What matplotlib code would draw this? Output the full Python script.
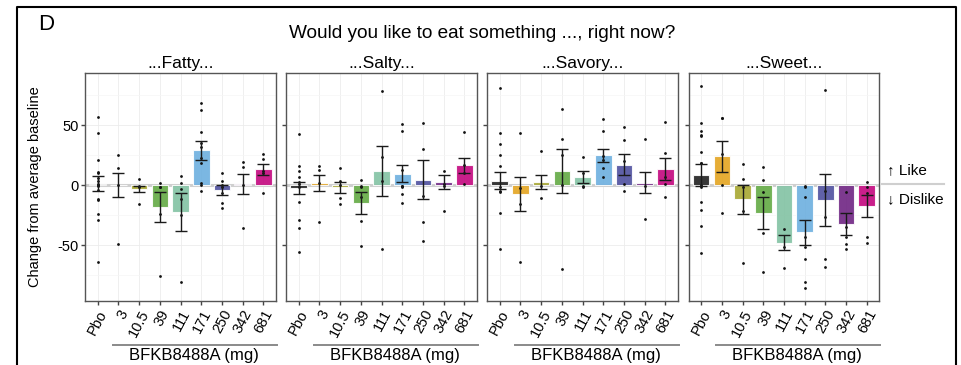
import matplotlib
matplotlib.use('Agg')
import matplotlib.pyplot as plt
from matplotlib.lines import Line2D
from matplotlib.transforms import blended_transform_factory

plt.rcParams['font.family'] = ['Liberation Sans', 'DejaVu Sans']

doses = ['Pbo', '3', '10.5', '39', '111', '171', '250', '342', '681']
tastes = ['...Fatty...', '...Salty...', '...Savory...', '...Sweet...']
dose_colors = ['#1a1a1a', '#e3a21a', '#a5a52b', '#5fa83f', '#7fc1a1',
               '#69addf', '#4a4b9c', '#6b1f80', '#c2007b']

# mean change, SEM and individual subjects per dose
fatty_mean = [1, 0, -3.5, -18, -22.5, 29, -4.5, 0.5, 13]
fatty_sem = [6.2, 10.3, 2.7, 12.5, 16, 8, 4.2, 8.3, 4.4]
fatty_points = [
    [57, 43.6, 20.8, 11, 10, 5.5, 3, 1, 0, -1, -4, -12, -12.5, -24.4, -29, -64],
    [24.7, 14.4, 0, -49],
    [5.3, -1, -1.5, -16],
    [1.4, -1.4, -2, -24.4, -76],
    [7.5, 1.4, -3.6, -12, -25, -81],
    [68, 62.5, 44.4, 34.7, 32, 22.8, 18, 1.4, 0, -4.7],
    [9.7, 3.6, 0, -1.4, -7, -14.7, -19.4],
    [19.4, 14.7, 0, -36],
    [26, 22, 12, 9.7, -7],
]

salty_mean = [-2.5, 1.5, -2, -15, 11.5, 9.5, 4.5, 2.5, 16.5]
salty_sem = [5, 6.6, 4.4, 8.8, 21, 7, 16, 5.5, 6.2]
salty_points = [
    [42.5, 15.8, 11.7, 7, 2.8, 0.5, -1.4, -14, -29, -36, -56],
    [15.8, 12.5, 1.4, -31],
    [14, 3.6, 0, -11, -16],
    [4, -1, -1.5, -9.7, -30, -50.5],
    [78.6, 23.6, 3.6, -53.6],
    [50.5, 45, 12.5, -0.5, -1, -1.5, -7.8, -15.3],
    [52, 30, -9, -31, -46.7],
    [11.7, 0.5, -0.5, -22],
    [44.4, 16.7, 10.3, 0.8],
]

savory_mean = [3.5, -7.5, 2.5, 11.5, 6.5, 25, 17, 2, 13.5]
savory_sem = [7, 14.5, 6, 18.5, 4.8, 5.4, 9, 9, 9.2]
savory_points = [
    [81, 43.6, 34, 24.7, 15.8, -1.4, -5, -5.5, -23.6, -53.6],
    [43.6, -2.8, -15.8, -64.4],
    [28.3, -1, -10.5],
    [63, 38, 24.7, 0, -70],
    [23.6, 10.3, -1, -1.5],
    [54.7, 44.7, 24.4, 20.8, 13.9, 7],
    [48, 37.5, 19.7, 0.8, -5],
    [38.3, -1, -28.6],
    [52.8, 27, 6.4, 0.8, -9.7],
]

sweet_mean = [8.5, 24, -12, -23.5, -48, -39.5, -12.5, -32.5, -17.5]
sweet_sem = [9, 13, 12, 13.5, 6, 10.7, 22, 9, 9]
sweet_points = [
    [82.5, 51.4, 45, 41.7, 41, 27.8, 18.6, 18, 0, -1.4, -14.4, -20.8, -34, -57],
    [56, 55.5, 25.5, 0, -23.6],
    [17.5, 5, -2, -21.7, -65],
    [14.7, 3.9, -5.8, -39.7, -72.5],
    [-37, -52, -69.4],
    [-1, -1.5, -9.7, -43, -52, -62, -81, -86],
    [79, -4.7, -26.4, -62, -68.6],
    [-5.8, -34.7, -43.6, -49.4, -53.6],
    [2.8, -1.4, -7, -43.6, -48],
]

all_means = [fatty_mean, salty_mean, savory_mean, sweet_mean]
all_sems = [fatty_sem, salty_sem, savory_sem, sweet_sem]
all_points = [fatty_points, salty_points, savory_points, sweet_points]

W, H = 961, 365
fig = plt.figure(figsize=(W / 100, H / 100), dpi=100)

panel_left = [85.3, 286.3, 487.3, 688.7]
panel_w = 190.5
top_px, bot_px = 73.3, 300.7
x = list(range(len(doses)))

for k, taste in enumerate(tastes):
    ax = fig.add_axes([panel_left[k] / W, 1 - bot_px / H,
                       panel_w / W, (bot_px - top_px) / H])
    ax.set_xlim(-0.6, 8.6)
    ax.set_ylim(-96.4, 93.1)

    ax.set_yticks([-50, 0, 50])
    ax.set_yticks([-75, -25, 25, 75], minor=True)
    ax.set_xticks(x)
    ax.grid(which='major', color='#ececec', lw=0.6, zorder=0)
    ax.grid(which='minor', axis='y', color='#f5f5f5', lw=0.5, zorder=0)
    ax.set_axisbelow(True)

    ax.axhline(0, color='#cfcfcf', lw=2.2, zorder=1)
    ax.bar(x, all_means[k], width=0.8, color=dose_colors, alpha=0.88,
           edgecolor='white', linewidth=0.8, zorder=2)
    for i, pts in enumerate(all_points[k]):
        ax.scatter([i] * len(pts), pts, s=4, color='#111111', lw=0, zorder=4)
    ax.errorbar(x, all_means[k], yerr=all_sems[k], fmt='none', ecolor='#1a1a1a',
                elinewidth=1, capsize=4.2, capthick=1, zorder=5)

    for sp in ax.spines.values():
        sp.set_color('#555555')
        sp.set_linewidth(1)
    ax.tick_params(which='major', length=3, width=1, color='#444444',
                   labelsize=10.5, pad=2)
    ax.tick_params(which='minor', length=0)
    ax.set_xticklabels(doses, rotation=62, ha='right', va='top',
                       rotation_mode='anchor', fontsize=10.5)
    if k == 0:
        ax.set_yticklabels(['-50', '0', '50'])
    else:
        ax.set_yticklabels([])
    ax.set_title(taste, fontsize=12.5, pad=4)

    # dose group bracket below the tick labels
    tr = blended_transform_factory(ax.transData, ax.transAxes)
    ax.add_line(Line2D([0.72, 8.65], [-0.195, -0.195], transform=tr,
                       color='#8a8a8a', lw=1.4, clip_on=False))
    ax.text(4.65, -0.243, 'BFKB8488A (mg)', transform=tr, ha='center',
            va='center', fontsize=12)

# outer frame (open at bottom)
fx0, fx1, fy1 = 17 / W, 956 / W, 1 - 7 / H
fig.add_artist(Line2D([fx0, fx0, fx1, fx1], [0, fy1, fy1, 0],
                      transform=fig.transFigure, color='black', lw=1.5))

fig.text(38 / W, 1 - 24 / H, 'D', fontsize=16, ha='left', va='center')
fig.text(482 / W, 1 - 33 / H, 'Would you like to eat something ..., right now?',
         fontsize=13.7, ha='center', va='center')
fig.text(35 / W, 1 - 187 / H, 'Change from average baseline', rotation=90,
         fontsize=10.5, ha='center', va='center')

# like / dislike key
fig.text(887 / W, 1 - 170 / H, '\u2191 Like', fontsize=11, ha='left', va='center')
fig.text(887 / W, 1 - 199 / H, '\u2193 Dislike', fontsize=11, ha='left', va='center')
fig.add_artist(Line2D([882 / W, 944 / W], [1 - 184 / H, 1 - 184 / H],
                      transform=fig.transFigure, color='#cfcfcf', lw=1.5))

fig.savefig('out.png', dpi=100)
